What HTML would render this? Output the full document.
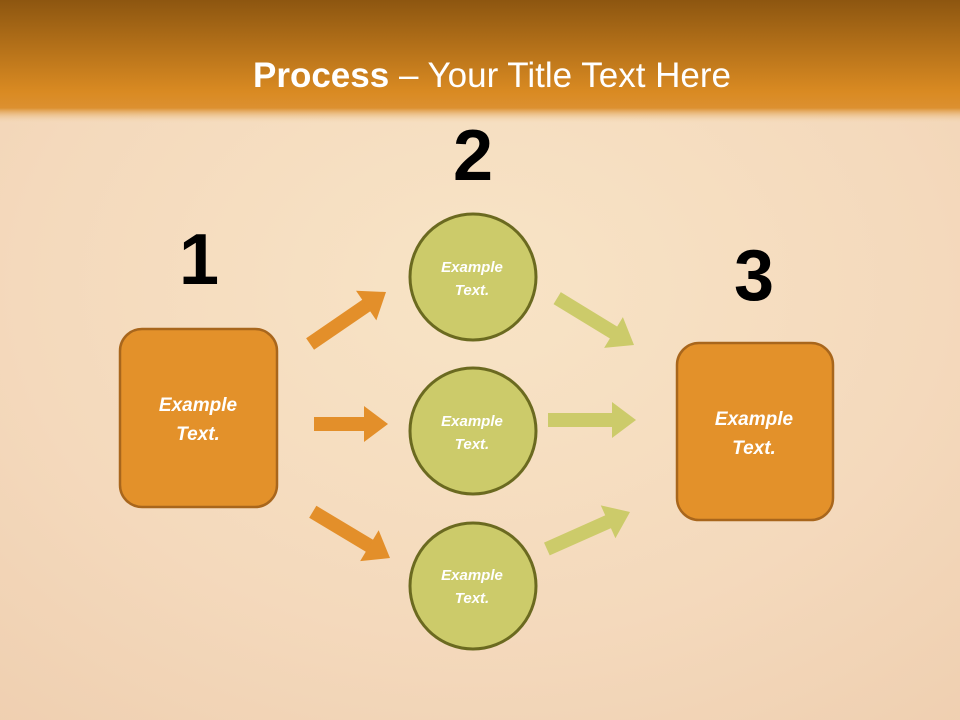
<!DOCTYPE html>
<html><head><meta charset="utf-8"><style>
html,body{margin:0;padding:0;width:960px;height:720px;overflow:hidden}
svg{display:block}
</style></head><body>
<svg width="960" height="720" viewBox="0 0 960 720" xmlns="http://www.w3.org/2000/svg" font-family="'Liberation Sans', sans-serif">
<defs>
<linearGradient id="hd" x1="0" y1="0" x2="0" y2="1">
<stop offset="0" stop-color="#8d5610"/>
<stop offset="0.85" stop-color="#d98a22"/>
<stop offset="1" stop-color="#dc9030"/>
</linearGradient>
<linearGradient id="fade" x1="0" y1="0" x2="0" y2="1">
<stop offset="0" stop-color="#dc9030"/>
<stop offset="1" stop-color="#f6e0c2" stop-opacity="0"/>
</linearGradient>
<radialGradient id="bg" cx="0.5" cy="0.4" r="0.8">
<stop offset="0" stop-color="#f8e4c6"/>
<stop offset="0.6" stop-color="#f4d9bc"/>
<stop offset="1" stop-color="#efcfb0"/>
</radialGradient>
<polygon id="ar" points="0,0 -24,-18 -24,18"/>
</defs>
<rect width="960" height="720" fill="url(#bg)"/>
<rect width="960" height="108" fill="url(#hd)"/>
<rect y="108" width="960" height="16" fill="url(#fade)"/>
<text x="492" y="87" text-anchor="middle" font-size="35" fill="#fff"><tspan font-weight="bold">Process</tspan> – Your Title Text Here</text>

<g font-weight="bold" font-size="72" fill="#000" text-anchor="middle">
<text x="199" y="284">1</text>
<text x="473" y="180">2</text>
<text x="754" y="300">3</text>
</g>

<g fill="#e38f2a">
<g transform="translate(386,292) rotate(-34.4)"><rect x="-92" y="-7" width="70" height="14"/><use href="#ar"/></g>
<g transform="translate(388,424)"><rect x="-74" y="-7" width="52" height="14"/><use href="#ar"/></g>
<g transform="translate(390,558) rotate(30.9)"><rect x="-90" y="-7" width="68" height="14"/><use href="#ar"/></g>
</g>
<g fill="#cccb6a">
<g transform="translate(634,345) rotate(31.4)"><rect x="-90" y="-7" width="68" height="14"/><use href="#ar"/></g>
<g transform="translate(636,420)"><rect x="-88" y="-7" width="66" height="14"/><use href="#ar"/></g>
<g transform="translate(630,512) rotate(-24)"><rect x="-91" y="-7" width="69" height="14"/><use href="#ar"/></g>
</g>

<rect x="120" y="329" width="157" height="178" rx="22" fill="#e3912a" stroke="#a8661c" stroke-width="2.5"/>
<rect x="677" y="343" width="156" height="177" rx="22" fill="#e3912a" stroke="#a8661c" stroke-width="2.5"/>

<g fill="#cccb6a" stroke="#6b6a20" stroke-width="3">
<circle cx="473" cy="277" r="63"/>
<circle cx="473" cy="431" r="63"/>
<circle cx="473" cy="586" r="63"/>
</g>

<g fill="#fff" font-weight="bold" font-style="italic" text-anchor="middle">
<g font-size="19">
<text x="198" y="411">Example</text><text x="198" y="440">Text.</text>
<text x="754" y="425">Example</text><text x="754" y="454">Text.</text>
</g>
<g font-size="15">
<text x="472" y="272">Example</text><text x="472" y="295">Text.</text>
<text x="472" y="426">Example</text><text x="472" y="449">Text.</text>
<text x="472" y="580">Example</text><text x="472" y="603">Text.</text>
</g>
</g>
</svg>
</body></html>
